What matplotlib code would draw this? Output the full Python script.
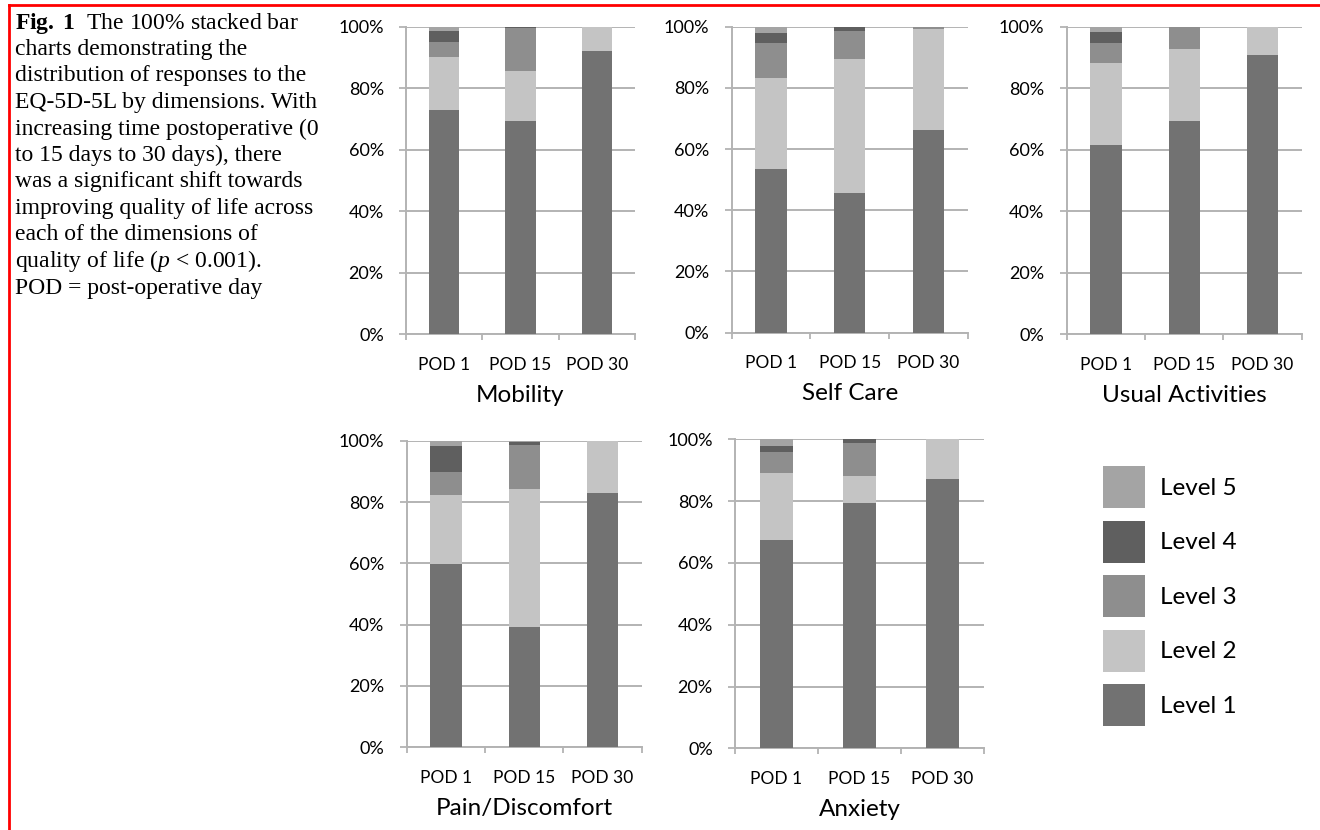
import matplotlib
matplotlib.use("Agg")
import matplotlib.pyplot as plt
from matplotlib.ticker import FixedLocator, FuncFormatter
from matplotlib.lines import Line2D

plt.rcParams['mathtext.fontset'] = 'custom'
plt.rcParams['mathtext.rm'] = 'Liberation Serif'
plt.rcParams['mathtext.it'] = 'Liberation Serif:italic'
plt.rcParams['mathtext.bf'] = 'Liberation Serif:bold'

# ---------------- data ----------------
categories = ["POD 1", "POD 15", "POD 30"]
levels = ["Level 1", "Level 2", "Level 3", "Level 4", "Level 5"]
level_colors = ["#727272", "#c4c4c4", "#8e8e8e", "#5f5f5f", "#a4a4a4"]

mobility_l1 = [73.0, 69.5, 92.0]
mobility_l2 = [17.3, 16.0, 8.0]
mobility_l3 = [4.7, 14.0, 0.0]
mobility_l4 = [3.5, 0.5, 0.0]
mobility_l5 = [1.5, 0.0, 0.0]

selfcare_l1 = [53.4, 45.5, 66.2]
selfcare_l2 = [29.9, 43.8, 33.0]
selfcare_l3 = [11.3, 9.4, 0.8]
selfcare_l4 = [3.2, 1.3, 0.0]
selfcare_l5 = [2.2, 0.0, 0.0]

usual_l1 = [61.5, 69.4, 90.8]
usual_l2 = [26.6, 23.3, 9.2]
usual_l3 = [6.7, 7.3, 0.0]
usual_l4 = [3.6, 0.0, 0.0]
usual_l5 = [1.6, 0.0, 0.0]

pain_l1 = [59.8, 39.3, 83.0]
pain_l2 = [22.6, 44.8, 17.0]
pain_l3 = [7.5, 14.5, 0.0]
pain_l4 = [8.3, 1.0, 0.0]
pain_l5 = [1.8, 0.4, 0.0]

anxiety_l1 = [67.4, 79.3, 87.1]
anxiety_l2 = [21.6, 8.9, 12.9]
anxiety_l3 = [6.8, 10.7, 0.0]
anxiety_l4 = [2.1, 1.1, 0.0]
anxiety_l5 = [2.1, 0.0, 0.0]

panel_titles = ["Mobility", "Self Care", "Usual Activities", "Pain/Discomfort", "Anxiety"]
panel_data = [
    [mobility_l1, mobility_l2, mobility_l3, mobility_l4, mobility_l5],
    [selfcare_l1, selfcare_l2, selfcare_l3, selfcare_l4, selfcare_l5],
    [usual_l1, usual_l2, usual_l3, usual_l4, usual_l5],
    [pain_l1, pain_l2, pain_l3, pain_l4, pain_l5],
    [anxiety_l1, anxiety_l2, anxiety_l3, anxiety_l4, anxiety_l5],
]
y_ticks = [0, 20, 40, 60, 80, 100]

caption_lines = [
    r"$\mathbf{Fig.\ 1}$  The 100% stacked bar",
    "charts demonstrating the",
    "distribution of responses to the",
    "EQ-5D-5L by dimensions. With",
    "increasing time postoperative (0",
    "to 15 days to 30 days), there",
    "was a significant shift towards",
    "improving quality of life across",
    "each of the dimensions of",
    r"quality of life ($p$ < 0.001).",
    "POD = post-operative day",
]

# ---------------- layout ----------------
W, H = 1320, 830
fig = plt.figure(figsize=(W / 100, H / 100), dpi=100)

def rect(l, t, r, b):
    return [l / W, 1 - b / H, (r - l) / W, (b - t) / H]

panel_rects = [
    rect(406, 26.7, 635, 334.3),
    rect(731.7, 26.7, 967.7, 332.7),
    rect(1066.7, 26.7, 1301.7, 334.3),
    rect(406.7, 440.7, 641.7, 747.3),
    rect(735, 439.3, 984, 748.3),
]

grid_col = "#b3b3b3"
tick_font = "Lato"
handles = None
for title, data, r in zip(panel_titles, panel_data, panel_rects):
    ax = fig.add_axes(r)
    x = list(range(len(categories)))
    bottom = [0.0] * len(categories)
    bars = []
    for vals, col, lab in zip(data, level_colors, levels):
        b = ax.bar(x, vals, width=0.4, bottom=bottom, color=col, label=lab,
                   edgecolor="none", zorder=3)
        bars.append(b)
        bottom = [bb + v for bb, v in zip(bottom, vals)]
    if handles is None:
        handles = bars
    ax.set_xlim(-0.5, 2.5)
    ax.set_ylim(0, 100)
    ax.set_yticks(y_ticks)
    ax.yaxis.set_major_formatter(FuncFormatter(lambda v, p: f"{int(v)}%"))
    ax.set_xticks(x)
    ax.set_xticklabels(categories, fontfamily=tick_font, fontsize=12.5)
    ax.xaxis.set_minor_locator(FixedLocator([-0.5, 0.5, 1.5, 2.5]))
    ax.tick_params(axis="x", which="major", length=0, pad=16)
    ax.tick_params(axis="x", which="minor", length=4.5, width=1.3, color=grid_col, direction="out")
    ax.tick_params(axis="y", which="major", length=5, width=1.3, color=grid_col, pad=11,
                   labelsize=13)
    for lbl in ax.get_yticklabels():
        lbl.set_fontfamily(tick_font)
    ax.grid(axis="y", color=grid_col, linewidth=1.4, zorder=0)
    ax.set_axisbelow(True)
    for s in ["top", "right"]:
        ax.spines[s].set_visible(False)
    for s in ["left", "bottom"]:
        ax.spines[s].set_color(grid_col)
        ax.spines[s].set_linewidth(1.4)
    ax.set_xlabel(title, fontfamily=tick_font, fontsize=17.5, labelpad=9)

# legend (top to bottom: Level 5 ... Level 1)
leg_handles = [h for h in handles][::-1]
leg_labels = levels[::-1]
fig.legend(leg_handles, leg_labels, loc="upper left",
           bbox_to_anchor=(1103 / W, 1 - 466 / H), bbox_transform=fig.transFigure,
           frameon=False, borderpad=0, borderaxespad=0,
           prop={"family": tick_font, "size": 17.5},
           handlelength=1.73, handleheight=2.28, labelspacing=0.52, handletextpad=0.62)

# caption
for i, line in enumerate(caption_lines):
    fig.text(15 / W, 1 - (23 + 26.5 * i) / H, line, fontfamily="Liberation Serif",
             fontsize=17, ha="left", va="center")

# red frame lines
fig.add_artist(Line2D([9 / W, 1.0], [1 - 5.5 / H, 1 - 5.5 / H], transform=fig.transFigure,
                      color="red", linewidth=2))
fig.add_artist(Line2D([9 / W, 9 / W], [1 - 5.5 / H, 0], transform=fig.transFigure,
                      color="red", linewidth=2))

fig.savefig("out.png", dpi=100, facecolor="white")
